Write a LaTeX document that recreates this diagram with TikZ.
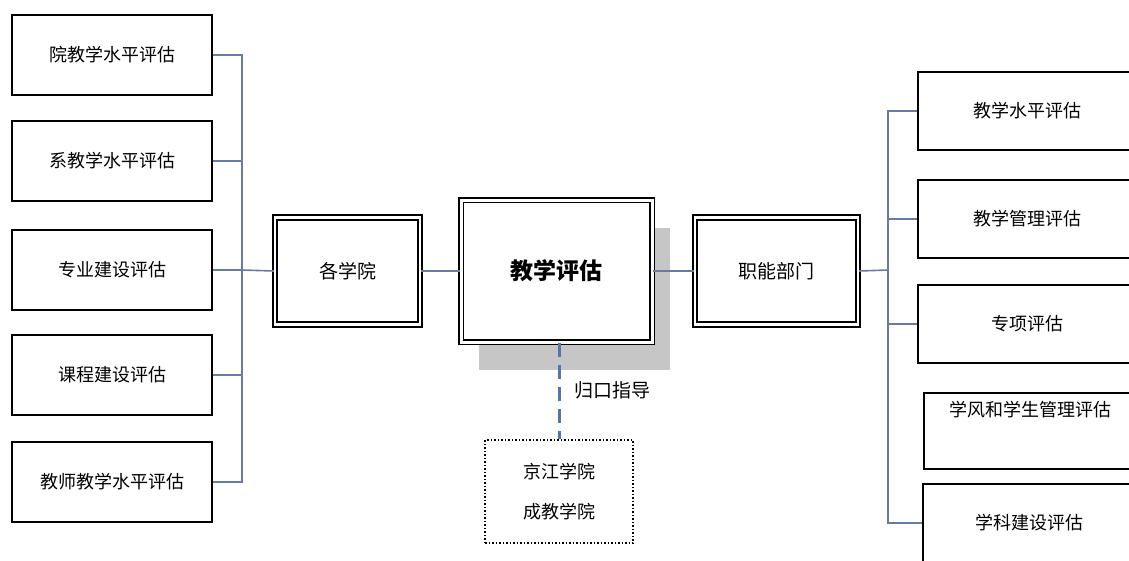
\documentclass[tikz,border=0pt]{standalone}
\usepackage{fontspec}
\newfontfamily\cjk{Noto Sans CJK SC}
\usetikzlibrary{shadows}
\definecolor{connc}{HTML}{6A7AA6}
\definecolor{dashc}{HTML}{5574AC}
\definecolor{shadc}{HTML}{C6C6C6}
\tikzset{
  box/.style={draw=black, line width=1.8pt, fill=white, inner sep=0pt, font=\cjk\fontsize{18}{20}\selectfont},
  lbox/.style={box, minimum width=200pt, minimum height=80pt},
  rbox/.style={box, minimum width=218pt, minimum height=78pt},
  dbl/.style={draw=black, line width=2pt, double=white, double distance=2.2pt, fill=white, inner sep=0pt},
  conn/.style={draw=connc, line width=1.6pt},
}
\begin{document}
\begin{tikzpicture}[x=1pt,y=-1pt]
\useasboundingbox (0,0) rectangle (1129,560);
\clip (0,0) rectangle (1129,560);
\fill[white] (0,0) rectangle (1129,560);

% left column
\node[lbox] (l1) at (112,55) {院教学水平评估};
\node[lbox] (l2) at (112,161) {系教学水平评估};
\node[lbox] (l3) at (112,270) {专业建设评估};
\node[lbox] (l4) at (112,375) {课程建设评估};
\node[lbox] (l5) at (112,482) {教师教学水平评估};

% centre row
\node[dbl, minimum width=145pt, minimum height=107pt, font=\cjk\fontsize{19}{21}\selectfont] (gxy) at (347.5,271) {各学院};
\node[dbl, minimum width=191pt, minimum height=142pt, double distance=3pt, line width=1.8pt,
      drop shadow={shadow xshift=18pt, shadow yshift=-28pt, fill=shadc, opacity=1},
      font=\cjk\bfseries\fontsize{23}{25}\selectfont] (jxpg) at (556.5,271) {教学评估};
\node[dbl, minimum width=163pt, minimum height=107pt, font=\cjk\fontsize{19}{21}\selectfont] (znbm) at (776.5,271) {职能部门};

% right column
\node[rbox] (r1) at (1027,111) {教学水平评估};
\node[rbox] (r2) at (1027,219) {教学管理评估};
\node[rbox] (r3) at (1027,324) {专项评估};
\node[rbox, minimum width=212pt, minimum height=76pt,
      label={[font=\cjk\fontsize{18}{20}\selectfont, anchor=north, yshift=-6pt]north:学风和学生管理评估}] (r4) at (1030,431) {};
\node[rbox, minimum width=213pt] (r5) at (1029.5,523) {学科建设评估};

% bottom dotted box
\node[draw=black, line width=1.6pt, dash pattern=on 1.5pt off 2pt, fill=white, minimum width=148pt, minimum height=103pt,
      align=center, inner sep=0pt, font=\cjk\fontsize{18}{40}\selectfont] (db) at (559,491.5) {京江学院\\成教学院};
\node[font=\cjk\fontsize{19}{21}\selectfont, anchor=west] (lbl) at (571,390) {归口指导};

% connectors
\coordinate (lt) at (242,270);
\coordinate (rt) at (888,270);
\foreach \n in {l1,l2,l3,l4,l5} \draw[conn] (\n.east) -| (lt);
\draw[conn] (lt) -- (gxy.west);
\draw[conn] (gxy.east) -- (jxpg.west);
\draw[conn] (jxpg.east) -- (znbm.west);
\draw[conn] (znbm.east) -- (rt);
\foreach \n in {r1,r2,r3,r5} \draw[conn] (rt) |- (\n.west);
\draw[draw=dashc, line width=3pt, dash pattern=on 14pt off 8pt] (jxpg.south -| db.north) -- (db.north);
\end{tikzpicture}
\end{document}
